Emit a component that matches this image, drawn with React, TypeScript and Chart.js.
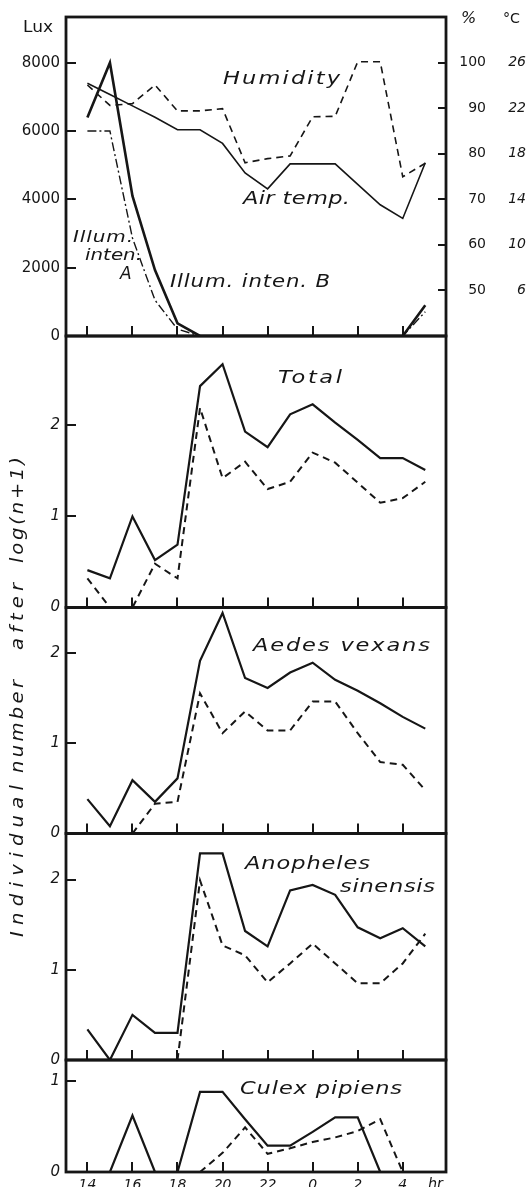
import React, { useEffect, useRef } from "react";
import { Chart, registerables } from "chart.js";

Chart.register(...registerables);

// ---------- data ----------
const hours = [14, 15, 16, 17, 18, 19, 20, 21, 22, 23, 24, 25, 26, 27, 28, 29];
const hourTicks = [14, 16, 18, 20, 22, 24, 26, 28];
const luxTicks = [0, 2000, 4000, 6000, 8000];
const humidityTicks = [50, 60, 70, 80, 90, 100];
const tempTicks = [6, 10, 14, 18, 22, 26];
const countTicks = [0, 1, 2];
const culexTicks = [0, 1];

const illumA = [6000, 6000, 2870, 1050, 200, 0, 0, 0, 0, 0, 0, 0, 0, 0, 0, 710];
const illumB = [6400, 8000, 4100, 1930, 370, 0, 0, 0, 0, 0, 0, 0, 0, 0, 0, 900];
const airTemp = [24.2, 23.2, 22.2, 21.2, 20.1, 20.1, 18.9, 16.3, 14.9, 17.1, 17.1, 17.1, 15.3, 13.5, 12.3, 17.2];
const humidity = [95.1, 90.6, 91.0, 95.1, 89.4, 89.4, 89.9, 78.0, 78.9, 79.5, 88.1, 88.2, 100.2, 100.2, 74.9, 77.9];

const totalSolid = [0.41, 0.32, 1.0, 0.52, 0.69, 2.43, 2.67, 1.93, 1.76, 2.12, 2.23, 2.03, 1.84, 1.64, 1.64, 1.51];
const totalDashed = [0.32, 0, 0, 0.48, 0.32, 2.19, 1.42, 1.6, 1.3, 1.38, 1.7, 1.59, 1.37, 1.15, 1.2, 1.38];
const aedesSolid = [0.38, 0.08, 0.59, 0.35, 0.61, 1.91, 2.44, 1.72, 1.61, 1.78, 1.89, 1.7, 1.58, 1.44, 1.29, 1.16];
const aedesDashed = [null, null, 0, 0.33, 0.35, 1.55, 1.11, 1.35, 1.14, 1.14, 1.46, 1.46, 1.11, 0.79, 0.76, 0.48];
const anophSolid = [0.34, 0, 0.5, 0.3, 0.3, 2.29, 2.29, 1.43, 1.26, 1.88, 1.94, 1.83, 1.47, 1.35, 1.46, 1.26];
const anophDashed = [null, null, null, null, 0, 1.99, 1.27, 1.16, 0.86, 1.07, 1.29, 1.07, 0.85, 0.85, 1.07, 1.4];
const culexSolid = [null, 0, 0.62, 0, 0, 0.88, 0.88, 0.58, 0.29, 0.29, 0.44, 0.6, 0.6, 0, null, null];
const culexDashed = [null, null, null, null, null, 0, 0.21, 0.49, 0.2, 0.26, 0.33, 0.38, 0.45, 0.58, 0, null];

// ---------- layout / style ----------
const W = 526;
const H = 1187;
const INK = "#161616";
const X_MIN = 13.05;
const X_MAX = 29.92;
const LEFT_W = 66;
const RIGHT_W = 80;
const FONT = '"DejaVu Sans", "Liberation Sans", sans-serif';

type Label = { text: string; x: number; y: number; w?: number; size: number; italic?: boolean; rot?: boolean; maxStretch?: number };

function drawLabel(ctx: CanvasRenderingContext2D, l: Label) {
  ctx.save();
  ctx.font = `${l.italic === false ? "normal" : "italic"} ${l.size}px ${FONT}`;
  ctx.fillStyle = INK;
  ctx.textBaseline = "middle";
  ctx.textAlign = "left";
  const c = ctx as any;
  const hasLS = "letterSpacing" in c;
  if (hasLS) c.letterSpacing = "0px";
  const natural = ctx.measureText(l.text).width;
  const n = l.text.length;
  ctx.translate(l.x, l.y);
  if (l.rot) ctx.rotate(-Math.PI / 2);
  if (l.w && natural > 0) {
    const limit = l.maxStretch ?? 1.25;
    const sx = Math.min(l.w / natural, limit);
    ctx.scale(sx, 1);
    if (n > 1 && hasLS) {
      const ls = (l.w / sx - natural) / (n - 1);
      c.letterSpacing = `${ls.toFixed(2)}px`;
    }
  }
  ctx.fillText(l.text, 0, 0);
  ctx.restore();
}

const framePlugin = {
  id: "frame",
  afterDraw(chart: any) {
    const { ctx, chartArea: a } = chart;
    ctx.save();
    ctx.strokeStyle = INK;
    ctx.lineWidth = 2.8;
    ctx.strokeRect(a.left, a.top, a.right - a.left, a.bottom - a.top);
    ctx.restore();
  },
};

function textPlugin(labels: Label[]) {
  return {
    id: "textLabels",
    afterDraw(chart: any) {
      labels.forEach((l) => drawLabel(chart.ctx, l));
    },
  };
}

function noAutoPad(s: any) {
  s.paddingTop = 0;
  s.paddingBottom = 0;
  s.paddingLeft = 0;
  s.paddingRight = 0;
}

function pts(vals: (number | null)[]) {
  return hours.map((h, i) => ({ x: h, y: vals[i] }));
}

function line(label: string, vals: (number | null)[], extra: any = {}) {
  return {
    label,
    data: pts(vals),
    borderColor: INK,
    borderWidth: 2.2,
    pointRadius: 0,
    tension: 0,
    fill: false,
    spanGaps: false,
    ...extra,
  };
}

const DASH = { borderDash: [7, 5], borderWidth: 2 };

function xScale(showLabels: boolean) {
  return {
    type: "linear",
    position: "bottom",
    min: X_MIN,
    max: X_MAX,
    afterBuildTicks: (s: any) => {
      s.ticks = hourTicks.map((v) => ({ value: v }));
    },
    afterFit: (s: any) => {
      s.height = showLabels ? 15 : 0;
      noAutoPad(s);
    },
    grid: { display: true, drawOnChartArea: false, drawTicks: true, tickLength: -10, lineWidth: 2, color: INK },
    border: { display: false },
    ticks: {
      display: showLabels,
      padding: 15,
      color: INK,
      autoSkip: false,
      maxRotation: 0,
      font: { family: FONT, size: 14, style: "italic" },
      callback: (v: any) => String(Number(v) % 24),
    },
  };
}

function yLeft(max: number, tickVals: number[], italic: boolean, size: number) {
  return {
    type: "linear",
    axis: "y",
    position: "left",
    min: 0,
    max,
    afterBuildTicks: (s: any) => {
      s.ticks = tickVals.map((v) => ({ value: v }));
    },
    afterFit: (s: any) => {
      s.width = LEFT_W;
      noAutoPad(s);
    },
    grid: { drawOnChartArea: false, drawTicks: true, tickLength: -10, lineWidth: 2, color: INK },
    border: { display: false },
    ticks: {
      padding: 16,
      color: INK,
      font: { family: FONT, size, style: italic ? "italic" : "normal" },
      callback: (v: any) => String(v),
    },
  };
}

type PanelDef = {
  top: number;
  bottom: number;
  datasets: any[];
  scales: any;
  labels: Label[];
  lastRow?: boolean;
  hasRight?: boolean;
};

function makeConfig(p: PanelDef): any {
  const xH = p.lastRow ? 15 : 0;
  return {
    type: "line",
    data: { datasets: p.datasets },
    options: {
      responsive: false,
      animation: false,
      devicePixelRatio: 1,
      events: [],
      layout: {
        autoPadding: false,
        padding: { top: p.top, bottom: H - p.bottom - xH, left: 0, right: p.hasRight ? 0 : RIGHT_W },
      },
      plugins: { legend: { display: false }, tooltip: { enabled: false }, title: { display: false } },
      scales: { x: xScale(!!p.lastRow), ...p.scales },
    },
    plugins: [framePlugin, textPlugin(p.labels)],
  };
}

const panels: PanelDef[] = [
  {
    top: 17,
    bottom: 336,
    hasRight: true,
    datasets: [
      line("Illum. inten. A", illumA, { borderWidth: 1.4, borderDash: [9, 3, 2, 3], yAxisID: "y" }),
      line("Illum. inten. B", illumB, { borderWidth: 2.6, yAxisID: "y" }),
      line("Air temp.", airTemp, { borderWidth: 1.6, yAxisID: "deg" }),
      line("Humidity", humidity, { borderWidth: 1.6, borderDash: [7, 5], yAxisID: "pct" }),
    ],
    scales: {
      y: yLeft(9340, luxTicks, false, 15),
      pct: {
        type: "linear",
        axis: "y",
        position: "right",
        min: 39.9,
        max: 110.05,
        afterBuildTicks: (s: any) => {
          s.ticks = humidityTicks.map((v) => ({ value: v }));
        },
        afterFit: (s: any) => {
          s.width = 40;
          noAutoPad(s);
        },
        grid: { drawOnChartArea: false, drawTicks: true, tickLength: -8, lineWidth: 2, color: INK },
        border: { display: false },
        ticks: {
          padding: 19,
          crossAlign: "far",
          color: INK,
          font: { family: FONT, size: 14 },
          callback: (v: any) => String(v),
        },
      },
      deg: {
        type: "linear",
        axis: "y",
        position: "right",
        min: 1.96,
        max: 30.02,
        afterBuildTicks: (s: any) => {
          s.ticks = tempTicks.map((v) => ({ value: v }));
        },
        afterFit: (s: any) => {
          s.width = 40;
          noAutoPad(s);
        },
        grid: { display: false, drawOnChartArea: false, drawTicks: false },
        border: { display: false },
        ticks: {
          padding: 11,
          crossAlign: "far",
          color: INK,
          font: { family: FONT, size: 14, style: "italic" },
          callback: (v: any) => String(v),
        },
      },
    },
    labels: [
      { text: "Lux", x: 23, y: 28, w: 30, size: 15, italic: false },
      { text: "%", x: 461, y: 19, size: 16 },
      { text: "°C", x: 503, y: 19, w: 17, size: 14, italic: false },
      { text: "Humidity", x: 223, y: 79, w: 117, size: 18 },
      { text: "Air temp.", x: 243, y: 199, w: 107, size: 18 },
      { text: "Illum.", x: 73, y: 238, w: 60, size: 16 },
      { text: "inten.", x: 85, y: 256, w: 57, size: 16 },
      { text: "A", x: 120, y: 275, size: 17 },
      { text: "Illum. inten. B", x: 170, y: 283, w: 160, size: 17 },
    ],
  },
  {
    top: 336,
    bottom: 607.5,
    datasets: [line("Total (solid)", totalSolid), line("Total (dashed)", totalDashed, DASH)],
    scales: { y: yLeft(2.98, countTicks, true, 15) },
    labels: [{ text: "Total", x: 278, y: 378, w: 64, size: 18 }],
  },
  {
    top: 607.5,
    bottom: 833.5,
    datasets: [line("Aedes vexans (solid)", aedesSolid), line("Aedes vexans (dashed)", aedesDashed, DASH)],
    scales: { y: yLeft(2.5, countTicks, true, 15) },
    labels: [{ text: "Aedes vexans", x: 253, y: 646, w: 177, size: 18 }],
  },
  {
    top: 833.5,
    bottom: 1060,
    datasets: [line("Anopheles sinensis (solid)", anophSolid), line("Anopheles sinensis (dashed)", anophDashed, DASH)],
    scales: { y: yLeft(2.51, countTicks, true, 15) },
    labels: [
      { text: "Anopheles", x: 245, y: 864, w: 125, size: 18 },
      { text: "sinensis", x: 340, y: 887, w: 95, size: 18 },
    ],
  },
  {
    top: 1060,
    bottom: 1172,
    lastRow: true,
    datasets: [line("Culex pipiens (solid)", culexSolid), line("Culex pipiens (dashed)", culexDashed, DASH)],
    scales: { y: yLeft(1.23, culexTicks, true, 15) },
    labels: [
      { text: "Culex pipiens", x: 240, y: 1089, w: 162, size: 18 },
      { text: "hr", x: 428, y: 1185, w: 15, size: 15 },
      { text: "Individual", x: 19, y: 937, w: 152, size: 17, rot: true, maxStretch: 1.15 },
      { text: "number", x: 19, y: 773, w: 93, size: 17, rot: true, maxStretch: 1.15 },
      { text: "after", x: 19, y: 650, w: 67, size: 17, rot: true, maxStretch: 1.15 },
      { text: "log(n+1)", x: 19, y: 563, w: 106, size: 17, rot: true, maxStretch: 1.15 },
    ],
  },
];

export default function App() {
  const refs = useRef<(HTMLCanvasElement | null)[]>([]);

  useEffect(() => {
    const charts = panels.map((p, i) => new Chart(refs.current[i] as HTMLCanvasElement, makeConfig(p)));
    return () => {
      charts.forEach((c) => c.destroy());
    };
  }, []);

  return (
    <div
      style={{
        position: "absolute",
        left: 0,
        top: 0,
        width: W,
        height: H,
        background: "#fff",
        overflow: "hidden",
      }}
    >
      {panels.map((_, i) => (
        <canvas
          key={i}
          ref={(el) => {
            refs.current[i] = el;
          }}
          width={W}
          height={H}
          style={{ position: "absolute", left: 0, top: 0, width: W, height: H }}
        />
      ))}
    </div>
  );
}
